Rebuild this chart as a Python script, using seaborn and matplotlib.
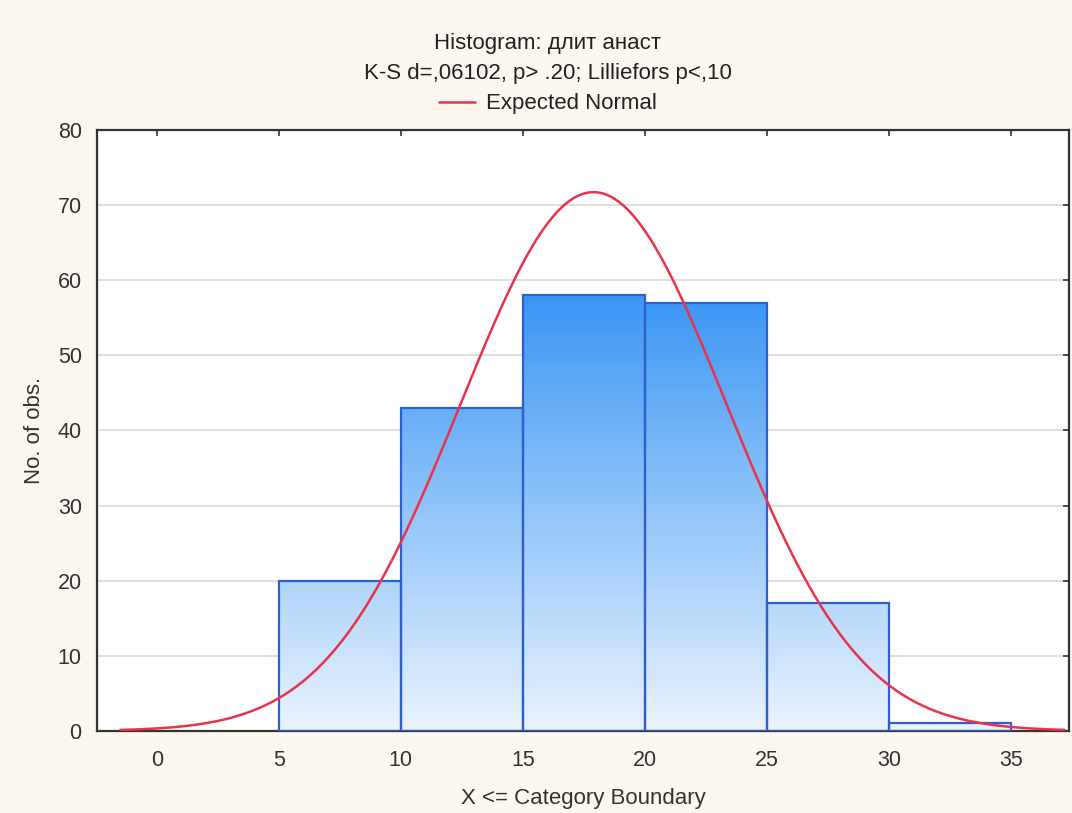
import numpy as np
import pandas as pd
import matplotlib
matplotlib.use("Agg")
import matplotlib.pyplot as plt
from matplotlib.colors import LinearSegmentedColormap
import seaborn as sns

# histogram counts per category (X <= boundary)
bin_edges = [5, 10, 15, 20, 25, 30, 35]
counts = [20, 43, 58, 57, 17, 1]
# expected normal parameters
n_obs = sum(counts)
mean_val = 17.9
sd_val = 5.45
bin_width = 5
x_ticks = [0, 5, 10, 15, 20, 25, 30, 35]
y_ticks = [0, 10, 20, 30, 40, 50, 60, 70, 80]

sns.set_style("white")
plt.rcParams['font.family'] = ['Liberation Sans', 'DejaVu Sans']

fig = plt.figure(figsize=(10.72, 8.13), dpi=100, facecolor="#fcf8f0")
ax = fig.add_axes([0.0905, 0.101, 0.907, 0.739])
ax.set_facecolor("white")

mids = [(a + b) / 2 for a, b in zip(bin_edges[:-1], bin_edges[1:])]
sns.histplot(x=mids, weights=counts, bins=bin_edges, ax=ax,
             color="none", edgecolor="#2f5fce", linewidth=1.6, alpha=1)

# vertical gradient in data space, light at zero, saturated at the top bar
cmap = LinearSegmentedColormap.from_list("grad", ["#eaf4fe", "#3a96f5"])
grad = np.linspace(0, 1, 256).reshape(-1, 1)
top = max(counts)
for p in list(ax.patches):
    p.set_facecolor("none")
    p.set_zorder(3)
    im = ax.imshow(grad, cmap=cmap, origin="lower", aspect="auto",
                   extent=[bin_edges[0], bin_edges[-1], 0, top], zorder=2)
    im.set_clip_path(p)

xs = np.linspace(-1.5, 37.2, 300)
curve = pd.DataFrame({
    "x": xs,
    "y": n_obs * bin_width / (sd_val * np.sqrt(2 * np.pi)) * np.exp(-(xs - mean_val) ** 2 / (2 * sd_val ** 2)),
})
sns.lineplot(data=curve, x="x", y="y", ax=ax, color="#e8334a", linewidth=1.8,
             zorder=4, label="Expected Normal", legend=False)

ax.set_xlim(-2.45, 37.4)
ax.set_ylim(0, 80)
ax.set_xticks(x_ticks)
ax.set_yticks(y_ticks)
ax.grid(axis="y", color="#dadada", linewidth=1.2)
ax.set_axisbelow(True)
ax.tick_params(direction="in", length=4, width=1.2, top=True, right=True,
               labelsize=15.5, colors="#333333")
ax.tick_params(axis="x", pad=14)
ax.tick_params(axis="y", pad=11)
for s in ax.spines.values():
    s.set_color("#333333")
    s.set_linewidth(1.6)
    s.set_visible(True)

ax.set_xlabel("X <= Category Boundary", fontsize=16, color="#333333", labelpad=12)
ax.set_ylabel("No. of obs.", fontsize=16, color="#333333", labelpad=9)

fig.text(0.511, 1 - 43 / 813, "Histogram: длит анаст", ha="center", va="center",
         fontsize=16, color="#222222")
fig.text(0.511, 1 - 73 / 813, "K-S d=,06102, p> .20; Lilliefors p<,10", ha="center",
         va="center", fontsize=16, color="#222222")
handles, labels = ax.get_legend_handles_labels()
fig.legend(handles, labels, loc="center", bbox_to_anchor=(0.511, 1 - 104 / 813),
           frameon=False, fontsize=16, handlelength=1.6, handletextpad=0.5,
           labelcolor="#222222")

fig.savefig("out.png", dpi=100, facecolor=fig.get_facecolor())
